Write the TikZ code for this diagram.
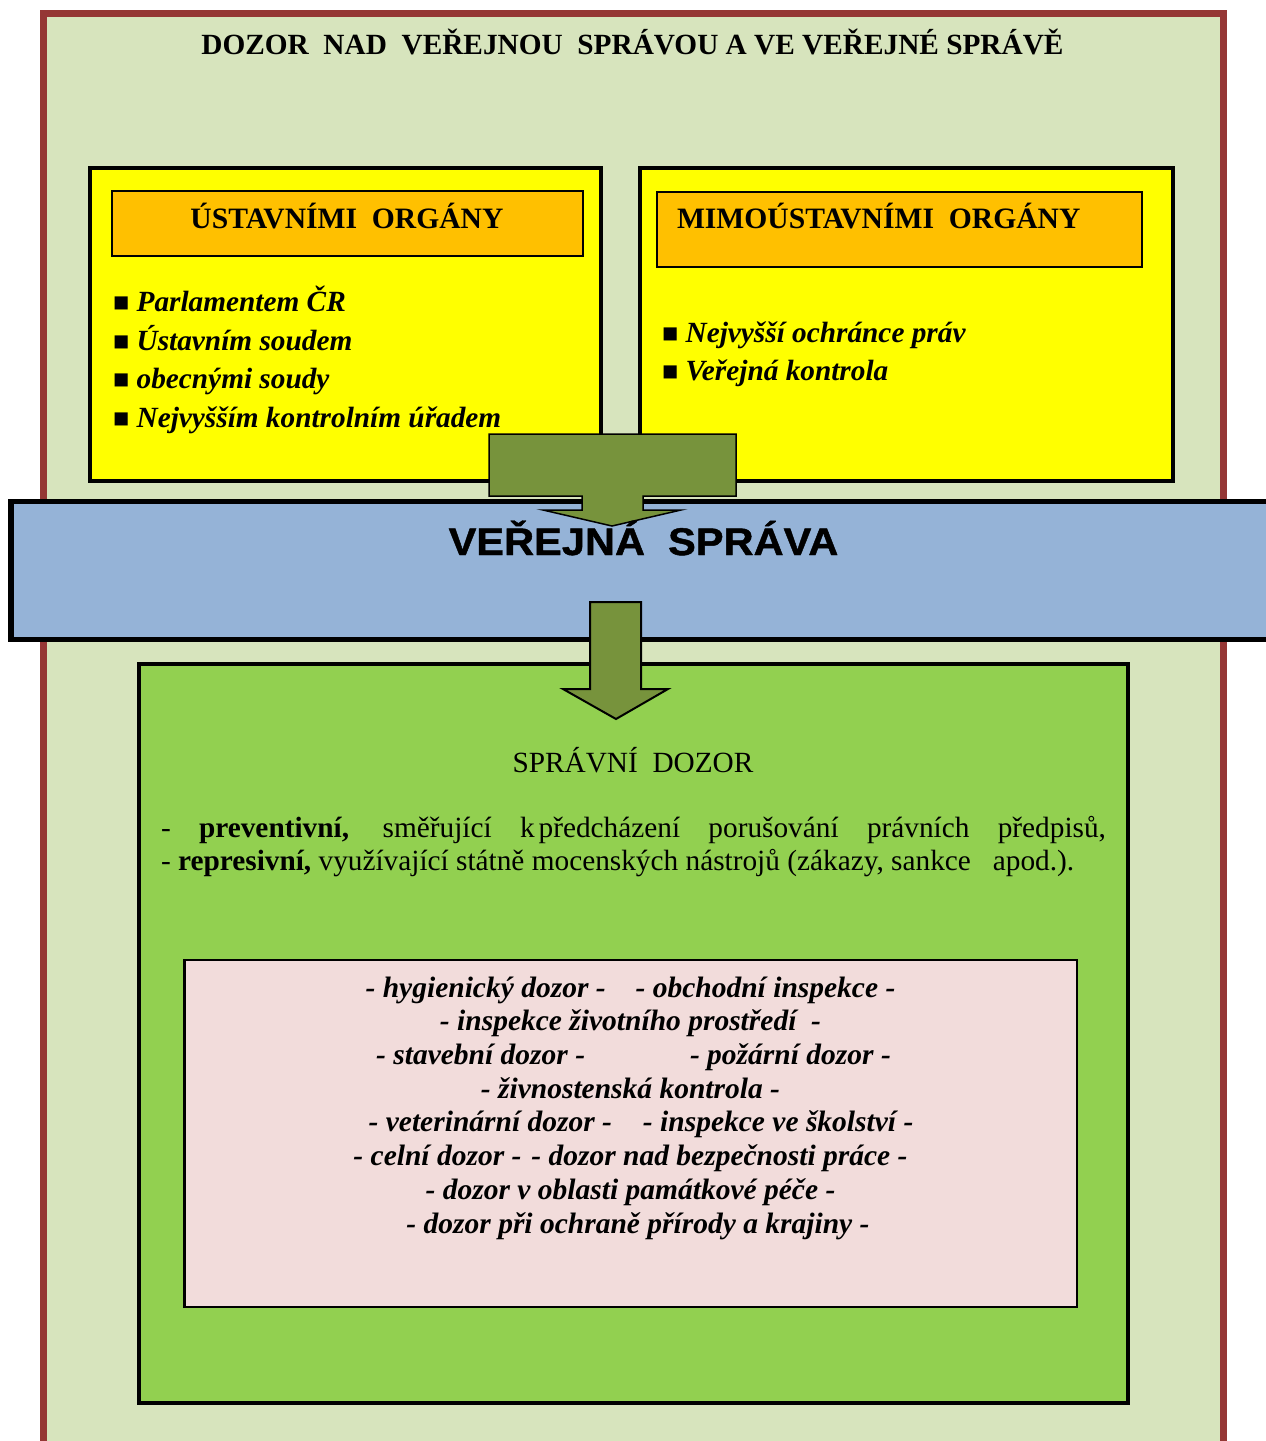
\documentclass[tikz,border=0pt]{standalone}
\usepackage{fontspec}
\setmainfont{Liberation Serif}
\newfontfamily\bandfont[FakeStretch=1.08,FakeBold=1.2]{Liberation Sans}
\definecolor{framered}{HTML}{953735}
\definecolor{framefill}{HTML}{D7E4BD}
\definecolor{boxyellow}{HTML}{FFFF00}
\definecolor{headorange}{HTML}{FFC000}
\definecolor{bandblue}{HTML}{95B3D7}
\definecolor{arrowolive}{HTML}{77933C}
\definecolor{dozorgreen}{HTML}{92D050}
\definecolor{listpink}{HTML}{F2DCDB}
\tikzset{
  txt/.style={inner sep=0pt, outer sep=0pt},
  head/.style={txt, font=\fontsize{29.6}{35}\selectfont\bfseries},
  item/.style={txt, anchor=base west, font=\fontsize{29.3}{35}\selectfont\bfseries},
  listline/.style={txt, anchor=base, font=\fontsize{29.5}{35}\selectfont\bfseries\itshape},
  para/.style={txt, anchor=base west, font=\fontsize{29.3}{35}\selectfont},
  blockarrow/.style={draw=black, fill=arrowolive, line join=miter},
}
\newcommand{\sq}{{\upshape\fontsize{27}{30}\selectfont ■}}
\begin{document}
\begin{tikzpicture}[x=1pt,y=-1pt]
\useasboundingbox (0,0) rectangle (1266,1441);
\clip (0,0) rectangle (1266,1441);

% outer frame
\draw[framered, line width=7pt, fill=framefill] (43.5,13) rectangle (1223,1444);
\node[txt, anchor=base, font=\fontsize{29.3}{35}\selectfont\bfseries] (title) at (632.5,54)
  {DOZOR\ \ NAD\ \ VEŘEJNOU\ \ SPRÁVOU A VE VEŘEJNÉ SPRÁVĚ};

% constitutional bodies
\draw[line width=4pt, fill=boxyellow] (90,168) rectangle (601,480.5);
\draw[line width=2pt, fill=headorange] (112,191) rectangle (583,256);
\node[head, anchor=base] (ustav) at (347,228) {ÚSTAVNÍMI\ \ ORGÁNY};
\node[item] (u1) at (113,311) {\sq\ \textit{Parlamentem ČR}};
\node[item] (u2) at (113,350) {\sq\ \textit{Ústavním soudem}};
\node[item] (u3) at (113,388) {\sq\ \textit{obecnými soudy}};
\node[item] (u4) at (113,427) {\sq\ \textit{Nejvyšším kontrolním úřadem}};

% non-constitutional bodies
\draw[line width=4pt, fill=boxyellow] (640,168) rectangle (1173,480.5);
\draw[line width=2pt, fill=headorange] (657,192) rectangle (1142,267);
\node[head, anchor=base west] (mimo) at (677,228) {MIMOÚSTAVNÍMI\ \ ORGÁNY};
\node[item] (m1) at (662,342) {\sq\ \textit{Nejvyšší ochránce práv}};
\node[item] (m2) at (662,380) {\sq\ \textit{Veřejná kontrola}};

% public administration band
\draw[line width=5.5pt, fill=bandblue] (11,501.5) rectangle (1290,639.5);

% callout arrow into the band
\draw[blockarrow, line width=1.5pt] (489,434) -- (736,434) -- (736,496) -- (643,496)
  -- (643,510) -- (681,510) -- (612,526) -- (543,510) -- (582,510) -- (582,496)
  -- (489,496) -- cycle;

\node[txt, anchor=base, font=\bandfont\fontsize{38.5}{44}\selectfont\bfseries] (vs) at (643.5,555)
  {VEŘEJNÁ\ \ SPRÁVA};

% administrative supervision
\draw[line width=4pt, fill=dozorgreen] (139,664) rectangle (1127.5,1403);

\draw[blockarrow, line width=2pt] (590,602) -- (641,602) -- (641,689) -- (668,689)
  -- (616,719) -- (563,689) -- (590,689) -- cycle;

\node[txt, anchor=base, font=\fontsize{29.3}{35}\selectfont] (sd) at (633,772) {SPRÁVNÍ\ \ DOZOR};
\node[para] (p1) at (161,837)
  {\makebox[945pt][s]{- \textbf{preventivní,} směřující k\kern4pt předcházení porušování právních předpisů,}};
\node[para] (p2) at (161,870)
  {- \textbf{represivní,} využívající státně mocenských nástrojů (zákazy, sankce\ \ \ apod.).};

% list of supervisory bodies
\draw[line width=2.5pt, fill=listpink] (184.5,960) rectangle (1077,1307);
\node[listline] (l1) at (630.5,997)  {- hygienický dozor -\hspace{30pt}- obchodní inspekce -};
\node[listline] (l2) at (630.5,1030.7) {- inspekce životního prostředí\ \ -};
\node[listline] (l3) at (633.5,1064.4) {- stavební dozor -\hspace{105pt}- požární dozor -};
\node[listline] (l4) at (630.5,1098) {- živnostenská kontrola -};
\node[listline] (l5) at (641,1131.8) {- veterinární dozor -\hspace{31pt}- inspekce ve školství -};
\node[listline] (l6) at (630.5,1165.5) {- celní dozor -\hspace{10pt}- dozor nad bezpečnosti práce -};
\node[listline] (l7) at (630.5,1199.2) {- dozor v oblasti památkové péče -};
\node[listline] (l8) at (638,1233) {- dozor při ochraně přírody a krajiny -};
\end{tikzpicture}
\end{document}
